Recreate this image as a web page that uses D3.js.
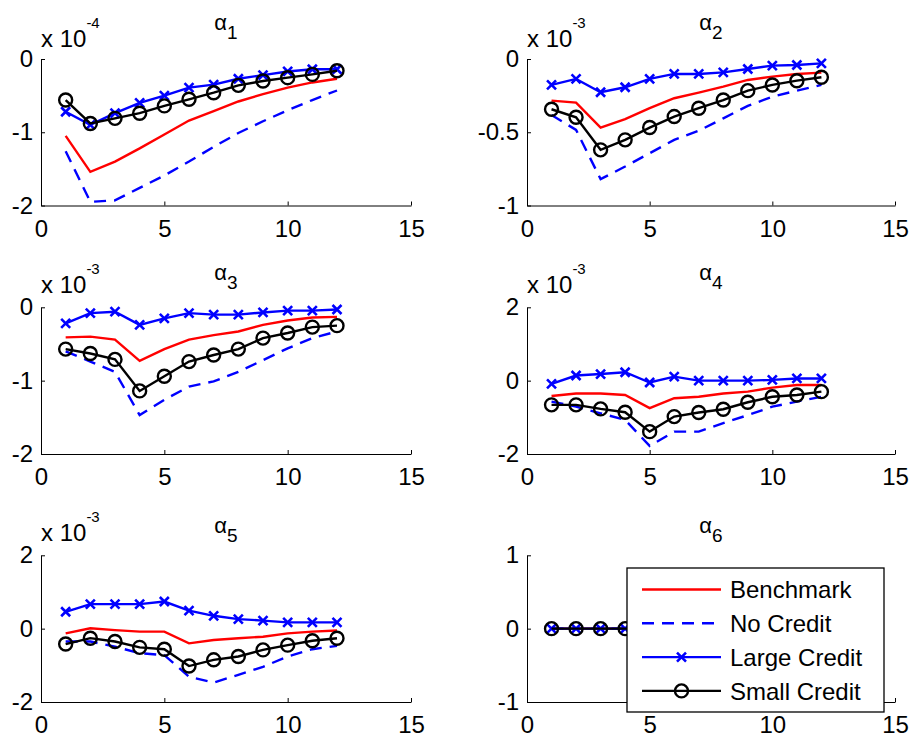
<!DOCTYPE html>
<html>
<head>
<meta charset="utf-8">
<script src="https://cdn.jsdelivr.net/npm/d3@7"></script>
<style>
body { margin: 0; background: #fff; }
text { font-family: "Liberation Sans", Arial, sans-serif; }
</style>
</head>
<body>
<div id="chart"></div>
<script>
// horizon and ticks
var periods = [1, 2, 3, 4, 5, 6, 7, 8, 9, 10, 11, 12];
var xTicks = [0, 5, 10, 15];
var seriesNames = ["Benchmark", "No Credit", "Large Credit", "Small Credit"];

var panelTitles = ["1", "2", "3", "4", "5", "6"];
var panelExponents = ["-4", "-3", "-3", "-3", "-3", null];
var yTicks = [[-2, -1, 0], [-1, -0.5, 0], [-2, -1, 0], [-2, 0, 2], [-2, 0, 2], [-1, 0, 1]];

// values in units of the panel multiplier (x 10^-4 / x 10^-3)
var bench1 = [-1.05, -1.54, -1.40, -1.22, -1.03, -0.84, -0.71, -0.58, -0.48, -0.39, -0.32, -0.27];
var noCredit1 = [-1.26, -1.95, -1.93, -1.76, -1.59, -1.40, -1.20, -1.01, -0.85, -0.70, -0.56, -0.43];
var large1 = [-0.72, -0.90, -0.74, -0.60, -0.50, -0.39, -0.35, -0.27, -0.22, -0.17, -0.14, -0.14];
var small1 = [-0.56, -0.88, -0.81, -0.74, -0.64, -0.55, -0.46, -0.36, -0.30, -0.255, -0.21, -0.16];

var bench2 = [-0.284, -0.298, -0.468, -0.411, -0.336, -0.268, -0.23, -0.189, -0.143, -0.12, -0.102, -0.093];
var noCredit2 = [-0.382, -0.484, -0.82, -0.734, -0.643, -0.552, -0.49, -0.405, -0.32, -0.257, -0.216, -0.177];
var large2 = [-0.177, -0.136, -0.227, -0.193, -0.136, -0.102, -0.102, -0.091, -0.068, -0.045, -0.041, -0.030];
var small2 = [-0.343, -0.398, -0.62, -0.552, -0.468, -0.393, -0.336, -0.28, -0.216, -0.177, -0.148, -0.125];

var bench3 = [-0.41, -0.40, -0.44, -0.73, -0.57, -0.44, -0.38, -0.33, -0.24, -0.18, -0.14, -0.13];
var noCredit3 = [-0.60, -0.74, -0.88, -1.47, -1.26, -1.08, -1.01, -0.88, -0.72, -0.56, -0.42, -0.33];
var large3 = [-0.22, -0.08, -0.06, -0.24, -0.15, -0.08, -0.10, -0.10, -0.07, -0.045, -0.045, -0.03];
var small3 = [-0.57, -0.63, -0.71, -1.14, -0.94, -0.74, -0.65, -0.57, -0.42, -0.35, -0.27, -0.25];

var bench4 = [-0.42, -0.35, -0.35, -0.39, -0.75, -0.48, -0.44, -0.35, -0.30, -0.19, -0.12, -0.12];
var noCredit4 = [-0.57, -0.71, -0.89, -1.07, -1.78, -1.39, -1.39, -1.16, -0.94, -0.71, -0.57, -0.44];
var large4 = [-0.09, 0.14, 0.18, 0.23, -0.05, 0.11, 0.0, 0.0, 0.0, 0.02, 0.06, 0.06];
var small4 = [-0.66, -0.66, -0.77, -0.86, -1.39, -0.98, -0.87, -0.78, -0.59, -0.44, -0.39, -0.30];

var bench5 = [-0.13, 0.01, -0.04, -0.08, -0.08, -0.40, -0.31, -0.26, -0.22, -0.13, -0.08, -0.05];
var noCredit5 = [-0.35, -0.35, -0.49, -0.67, -0.72, -1.31, -1.47, -1.26, -1.04, -0.76, -0.56, -0.47];
var large5 = [0.46, 0.67, 0.67, 0.67, 0.74, 0.49, 0.35, 0.26, 0.22, 0.17, 0.17, 0.17];
var small5 = [-0.42, -0.26, -0.35, -0.51, -0.56, -1.02, -0.85, -0.76, -0.58, -0.45, -0.33, -0.26];

var bench6 = [0, 0, 0, 0, 0, 0, 0, 0, 0, 0, 0, 0];
var noCredit6 = [0, 0, 0, 0, 0, 0, 0, 0, 0, 0, 0, 0];
var large6 = [0, 0, 0, 0, 0, 0, 0, 0, 0, 0, 0, 0];
var small6 = [0, 0, 0, 0, 0, 0, 0, 0, 0, 0, 0, 0];

var panels = [
	[bench1, noCredit1, large1, small1],
	[bench2, noCredit2, large2, small2],
	[bench3, noCredit3, large3, small3],
	[bench4, noCredit4, large4, small4],
	[bench5, noCredit5, large5, small5],
	[bench6, noCredit6, large6, small6]
];

// look of each series
var styles = [
	{ color: "#ff0000", dash: null, marker: null },
	{ color: "#0000ff", dash: "12,8", marker: null },
	{ color: "#0000ff", dash: null, marker: "x" },
	{ color: "#000000", dash: null, marker: "o" }
];

var width = 914, height = 738;
var cols = [[41, 411], [527, 895]];
var rows = [[59, 205.5], [307.3, 454], [555.3, 702]];
var titleY = [30, 280, 533];
var expY = [47, 293, 541];
var fontSize = 24;

var svg = d3.select("#chart")
	.append("svg")
	.attr("width", width)
	.attr("height", height);

function drawMarker(g, type, cx, cy, color) {
	if (type === "o") {
		g.append("circle")
			.attr("cx", cx).attr("cy", cy).attr("r", 6.5)
			.attr("fill", "none")
			.attr("stroke", color)
			.attr("stroke-width", 2.4);
	} else if (type === "x") {
		var s = 4.5;
		g.append("path")
			.attr("d", "M" + (cx - s) + "," + (cy - s) + "L" + (cx + s) + "," + (cy + s) +
				"M" + (cx - s) + "," + (cy + s) + "L" + (cx + s) + "," + (cy - s))
			.attr("stroke", color)
			.attr("stroke-width", 2.6)
			.attr("fill", "none");
	}
}

panels.forEach(function(series, i) {
	var r = Math.floor(i / 2), c = i % 2;
	var x0 = cols[c][0], x1 = cols[c][1];
	var yTop = rows[r][0], yBot = rows[r][1];

	var x = d3.scaleLinear().domain([0, 15]).range([x0, x1]);
	var y = d3.scaleLinear().domain(d3.extent(yTicks[i])).range([yBot, yTop]);

	var g = svg.append("g");

	// axes, ticks pointing inward like matlab
	var xAxis = g.append("g")
		.attr("transform", "translate(0," + yBot + ")")
		.call(d3.axisBottom(x).tickValues(xTicks).tickSizeInner(-4).tickSizeOuter(0).tickPadding(14)
			.tickFormat(function(d) { return String(d); }));
	var yAxis = g.append("g")
		.attr("transform", "translate(" + x0 + ",0)")
		.call(d3.axisLeft(y).tickValues(yTicks[i]).tickSizeInner(-4).tickSizeOuter(0).tickPadding(8)
			.tickFormat(function(d) { return String(d); }));

	[xAxis, yAxis].forEach(function(a) {
		a.attr("font-size", fontSize).attr("font-family", null);
		a.selectAll("path, line").attr("stroke", "#000").attr("stroke-width", 1);
		a.selectAll("text").attr("fill", "#000");
	});

	// title alpha_i
	var t = g.append("text")
		.attr("x", (x0 + x1) / 2)
		.attr("y", titleY[r])
		.attr("text-anchor", "middle")
		.attr("font-size", 22)
		.text("\u03b1");
	t.append("tspan")
		.attr("dy", 9)
		.attr("font-size", 19)
		.text(panelTitles[i]);

	// multiplier label
	if (panelExponents[i]) {
		var m = g.append("text")
			.attr("x", x0)
			.attr("y", expY[r])
			.attr("font-size", fontSize)
			.text("x 10");
		m.append("tspan")
			.attr("dy", -19)
			.attr("font-size", 15)
			.text(panelExponents[i]);
	}

	var line = d3.line()
		.x(function(d, k) { return x(periods[k]); })
		.y(function(d) { return y(d); });

	series.forEach(function(vals, s) {
		var st = styles[s];
		g.append("path")
			.datum(vals)
			.attr("d", line)
			.attr("fill", "none")
			.attr("stroke", st.color)
			.attr("stroke-width", 2.4)
			.attr("stroke-dasharray", st.dash);
		if (st.marker) {
			vals.forEach(function(v, k) {
				drawMarker(g, st.marker, x(periods[k]), y(v), st.color);
			});
		}
	});
});

// legend in the last panel
var legX = 627, legY = 568, legW = 257, legH = 144;
var legend = svg.append("g");
legend.append("rect")
	.attr("x", legX).attr("y", legY)
	.attr("width", legW).attr("height", legH)
	.attr("fill", "#fff")
	.attr("stroke", "#000")
	.attr("stroke-width", 1.3);

seriesNames.forEach(function(name, s) {
	var st = styles[s];
	var ly = legY + 21.5 + s * 33.8;
	legend.append("line")
		.attr("x1", legX + 15).attr("x2", legX + 94)
		.attr("y1", ly).attr("y2", ly)
		.attr("stroke", st.color)
		.attr("stroke-width", 2.4)
		.attr("stroke-dasharray", st.dash);
	if (st.marker) drawMarker(legend, st.marker, legX + 54.5, ly, st.color);
	legend.append("text")
		.attr("x", legX + 103)
		.attr("y", ly)
		.attr("dy", "0.36em")
		.attr("font-size", fontSize)
		.text(name);
});
</script>
</body>
</html>
